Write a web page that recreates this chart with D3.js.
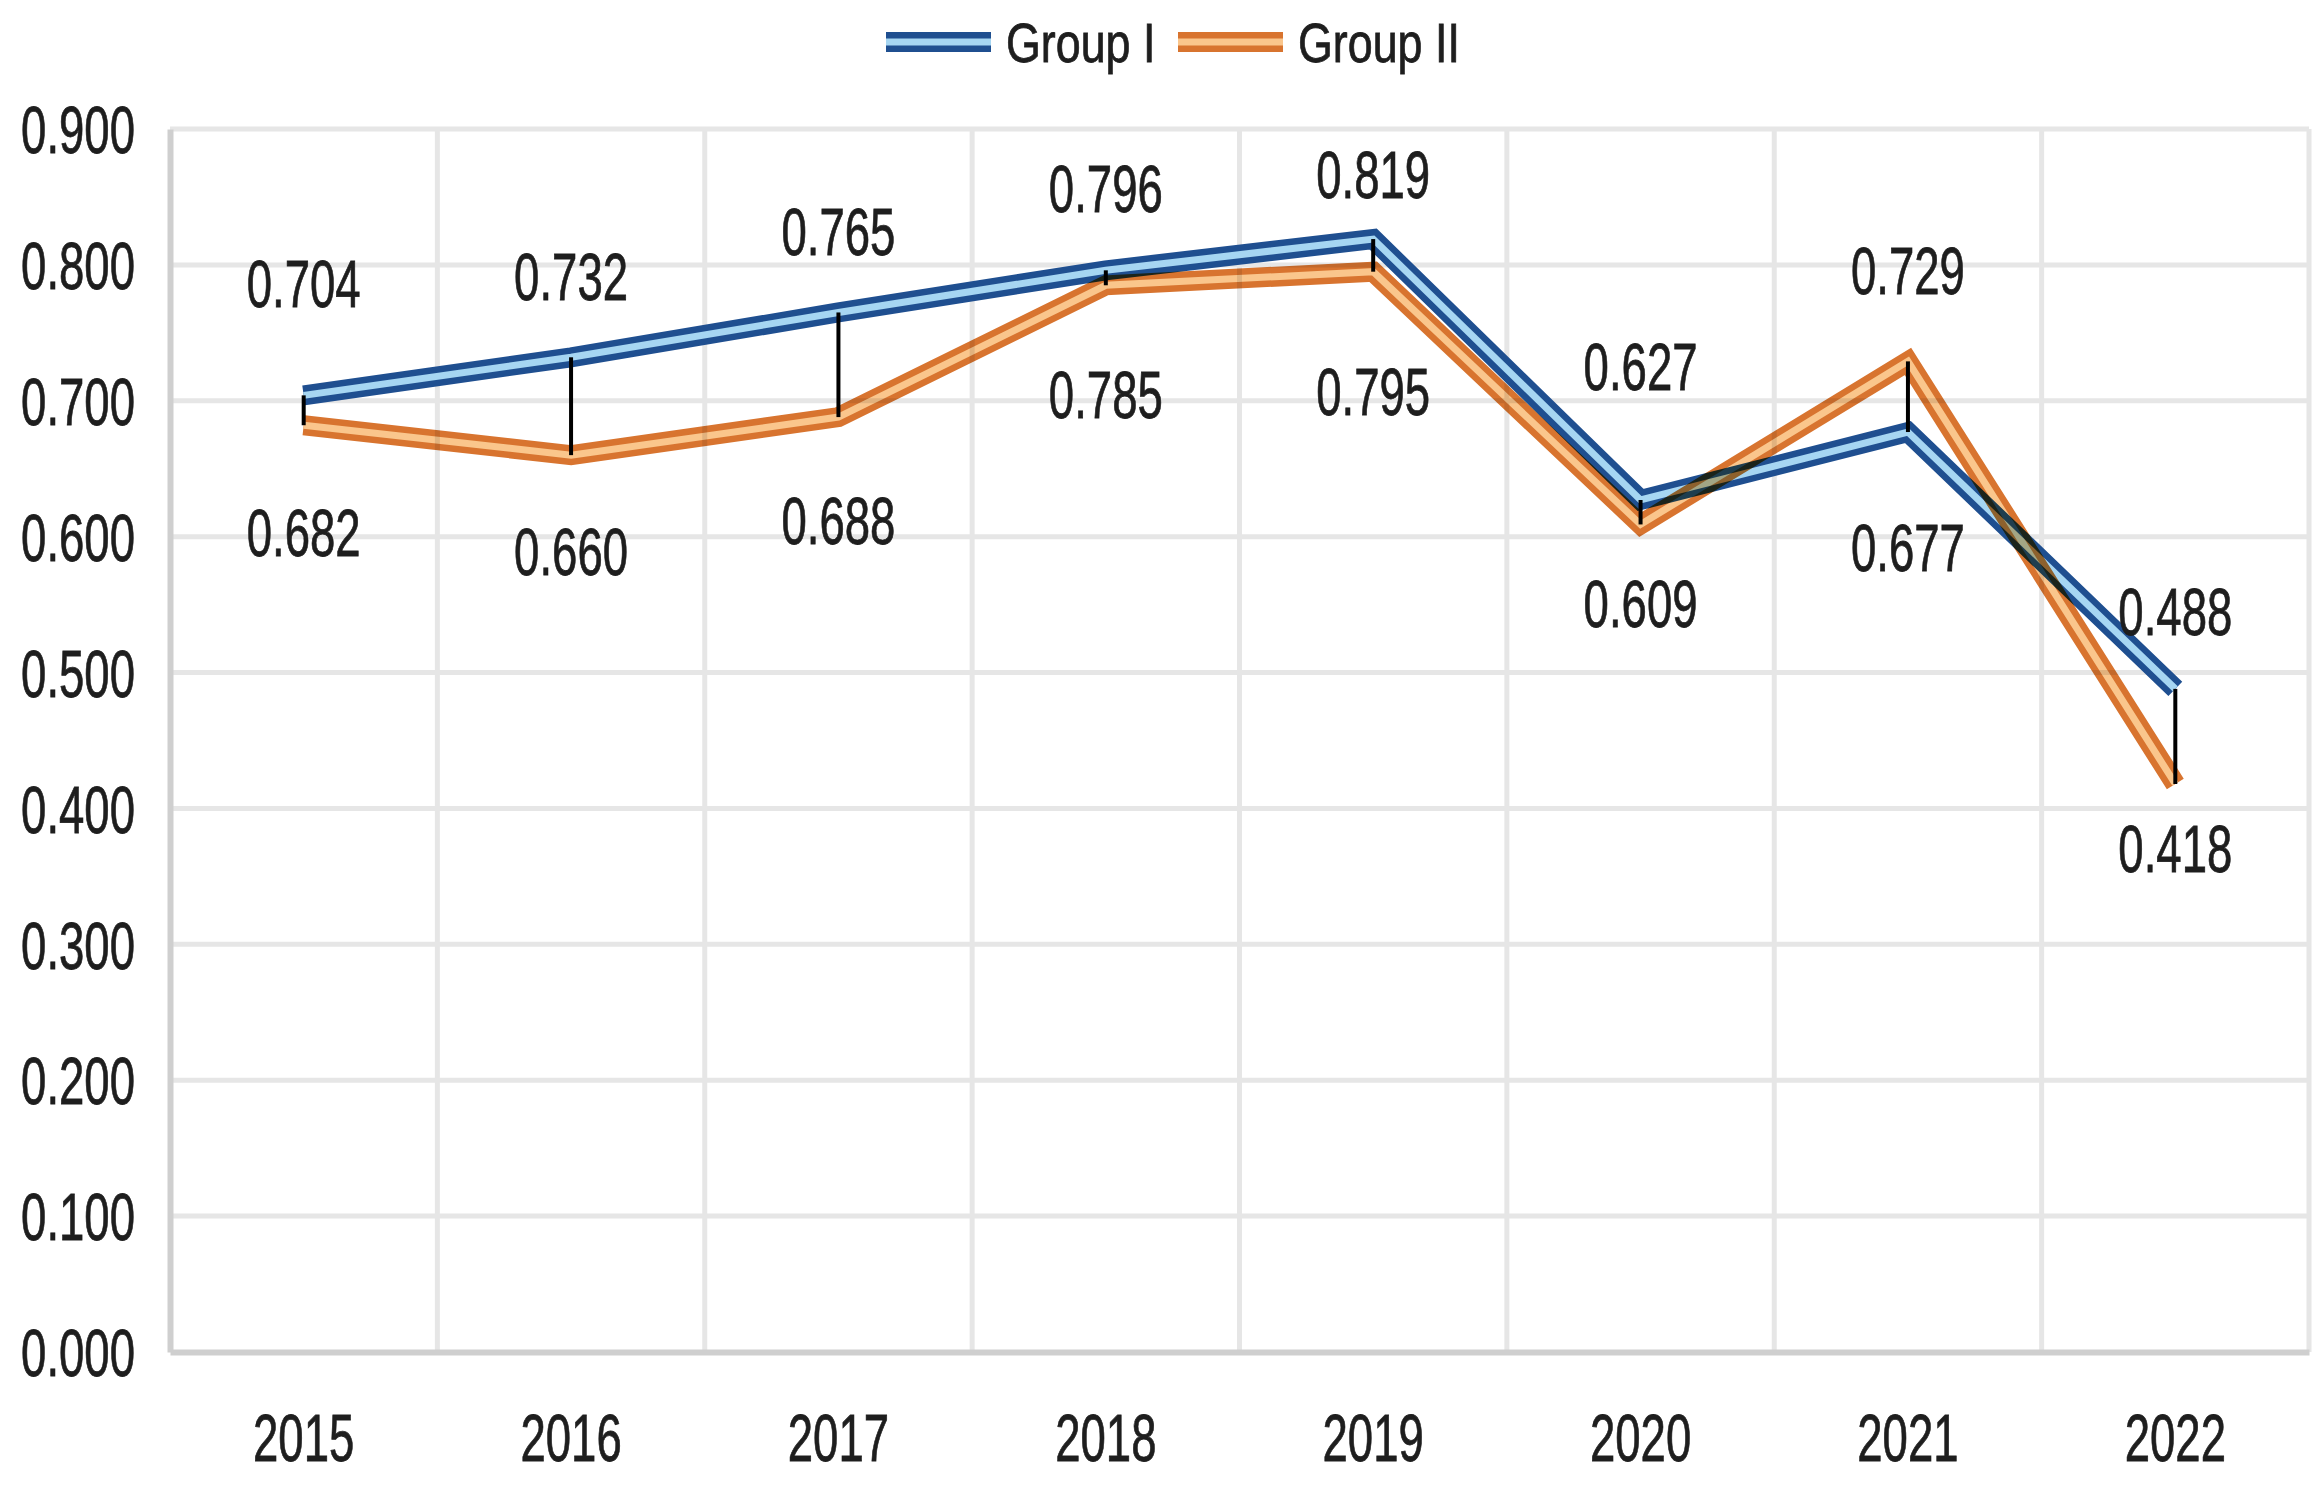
<!DOCTYPE html>
<html lang="en">
<head>
<meta charset="UTF-8">
<title>Group I / Group II</title>
<script src="https://cdn.jsdelivr.net/npm/d3@7"></script>
<style>
    body { margin: 0; background: #fff; }
    text { font-family: "Liberation Sans", Arial, sans-serif; fill: #1e1e1e; stroke: #1e1e1e; stroke-width: 0.8px; }
</style>
</head>
<body>
<script>
    // data
    var years = ['2015', '2016', '2017', '2018', '2019', '2020', '2021', '2022']
    var groupI = [0.704, 0.732, 0.765, 0.796, 0.819, 0.627, 0.677, 0.488]
    var groupII = [0.682, 0.660, 0.688, 0.785, 0.795, 0.609, 0.729, 0.418]
    var yTicks = [0, 0.1, 0.2, 0.3, 0.4, 0.5, 0.6, 0.7, 0.8, 0.9]
    var seriesNames = ['Group I', 'Group II']

    // layout
    var width = 2321
        height = 1490
        plot = { left: 170, right: 2309, top: 129, bottom: 1352 }
        fontSize = 66
        squeeze = 0.69   // the original type is narrow
        // value labels were placed by hand in the original: offset from the point, px
        labelDyI = [-112, -81, -81, -82, -65, -134, 115, -78]
        labelDyII = [107, 96, 103, 109, 120, 79, -91, 64]
        colors = [
            { dark: '#1f4f90', light: '#a6d6f2' },
            { dark: '#d8742f', light: '#fac68c' }
        ]

    var svg = d3.select('body')
        .append('svg')
        .attr('width', width)
        .attr('height', height)

    var xScale = d3.scaleBand()
        .domain(years)
        .range([plot.left, plot.right])
    var yScale = d3.scaleLinear()
        .domain([0, 0.9])
        .range([plot.bottom, plot.top])
    var cx = d => xScale(d) + xScale.bandwidth() / 2

    // grid
    svg.append('g')
        .selectAll('line')
        .data(yTicks.slice(1))
        .enter()
        .append('line')
        .attr('x1', plot.left)
        .attr('x2', plot.right)
        .attr('y1', d => yScale(d))
        .attr('y2', d => yScale(d))
        .attr('stroke', '#e6e6e6')
        .attr('stroke-width', 5)
    svg.append('g')
        .selectAll('line')
        .data(years)
        .enter()
        .append('line')
        .attr('x1', d => xScale(d) + xScale.bandwidth())
        .attr('x2', d => xScale(d) + xScale.bandwidth())
        .attr('y1', plot.top)
        .attr('y2', plot.bottom)
        .attr('stroke', '#e6e6e6')
        .attr('stroke-width', 5)

    // axes
    var yAxis = svg.append('g')
        .attr('transform', 'translate(' + plot.left + ',0)')
        .call(d3.axisLeft(yScale).tickValues(yTicks).tickFormat(d3.format('.3f')).tickSize(0))
    yAxis.select('.domain')
        .attr('stroke', '#cfcfcf')
        .attr('stroke-width', 6)
    yAxis.selectAll('text')
        .attr('font-size', fontSize)
        .attr('font-family', null)
        .attr('x', -35 / squeeze)
        .attr('dy', '0.36em')
        .attr('transform', 'scale(' + squeeze + ',1)')

    var xAxis = svg.append('g')
        .attr('transform', 'translate(0,' + plot.bottom + ')')
        .call(d3.axisBottom(xScale).tickSize(0))
    xAxis.select('.domain')
        .attr('stroke', '#cfcfcf')
        .attr('stroke-width', 6)
    xAxis.selectAll('text')
        .attr('font-size', fontSize)
        .attr('font-family', null)
        .attr('y', 62)
        .attr('transform', 'scale(' + squeeze + ',1)')

    // double lines
    var line = d3.line()
        .x((d, i) => cx(years[i]))
        .y(d => yScale(d))

    ;[groupI, groupII].forEach(function (values, k) {
        var g = svg.append('g')
        if (k == 1) g.style('mix-blend-mode', 'multiply')
        g.append('path')
            .attr('d', line(values))
            .attr('fill', 'none')
            .attr('stroke', colors[k].dark)
            .attr('stroke-width', 20)
            .attr('stroke-linejoin', 'miter')
        g.append('path')
            .attr('d', line(values))
            .attr('fill', 'none')
            .attr('stroke', colors[k].light)
            .attr('stroke-width', 7)
            .attr('stroke-linejoin', 'miter')
    })

    // high-low lines
    svg.append('g')
        .selectAll('line')
        .data(years)
        .enter()
        .append('line')
        .attr('x1', d => cx(d))
        .attr('x2', d => cx(d))
        .attr('y1', (d, i) => yScale(groupI[i]))
        .attr('y2', (d, i) => yScale(groupII[i]))
        .attr('stroke', '#000')
        .attr('stroke-width', 4)

    // value labels
    function addLabels(values, offsets) {
        svg.append('g')
            .selectAll('text')
            .data(values)
            .enter()
            .append('text')
            .attr('transform', (d, i) => 'translate(' + cx(years[i]) + ',' + (yScale(d) + offsets[i]) + ') scale(' + squeeze + ',1)')
            .attr('text-anchor', 'middle')
            .attr('dy', '0.36em')
            .attr('font-size', fontSize)
            .text(d => d3.format('.3f')(d))
    }
    addLabels(groupI, labelDyI)
    addLabels(groupII, labelDyII)

    // legend
    var legendX = [886, 1178]
    var legend = svg.append('g')
        .selectAll('g')
        .data(seriesNames)
        .enter()
        .append('g')
        .attr('transform', (d, i) => 'translate(' + legendX[i] + ',42)')
    legend.append('line')
        .attr('x1', 0).attr('x2', 105)
        .attr('stroke', (d, i) => colors[i].dark)
        .attr('stroke-width', 20)
    legend.append('line')
        .attr('x1', 0).attr('x2', 105)
        .attr('stroke', (d, i) => colors[i].light)
        .attr('stroke-width', 7)
    legend.append('text')
        .attr('transform', 'translate(120,0) scale(0.8,1)')
        .attr('dy', '0.36em')
        .attr('font-size', 56)
        .text(d => d)
</script>
</body>
</html>
